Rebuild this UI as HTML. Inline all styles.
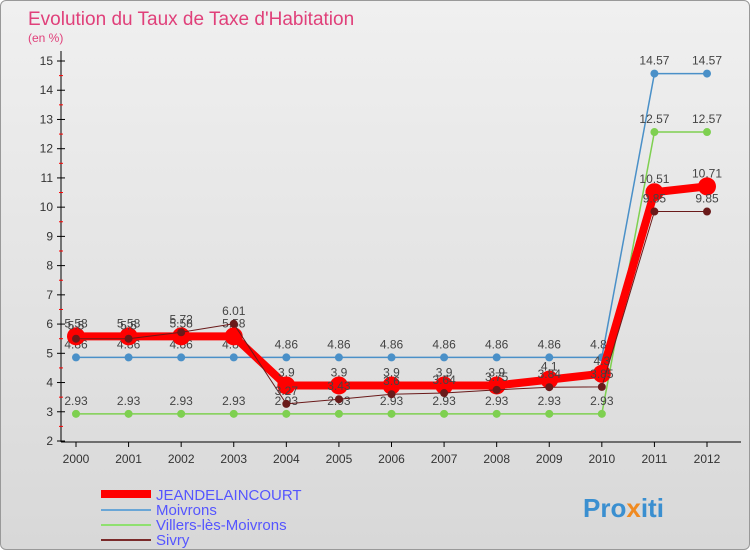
<!DOCTYPE html>
<html><head><meta charset="utf-8"><style>
body{margin:0;width:750px;height:550px;overflow:hidden;font-family:"Liberation Sans",sans-serif}
#c{position:absolute;left:0;top:0;width:748px;height:548px;border:1px solid #999;border-radius:6px;background:linear-gradient(#f0f0f0,#d8d8d8)}
</style></head><body>
<div id="c">
<svg id="s" width="750" height="550" style="position:absolute;left:0;top:0">
<text x="27" y="24" font-size="19" fill="#e0407a">Evolution du Taux de Taxe d'Habitation</text>
<text x="27" y="41" font-size="12" fill="#e0407a">(en %)</text>
<g id="plot"></g>
<g>
<line x1="100" y1="493" x2="150" y2="493" stroke="#f00" stroke-width="8"/><text x="155" y="499" font-size="15" fill="#55f">JEANDELAINCOURT</text>
<line x1="100" y1="509" x2="150" y2="509" stroke="#6aa6d6" stroke-width="2"/><text x="155" y="514" font-size="15" fill="#55f">Moivrons</text>
<line x1="100" y1="524" x2="150" y2="524" stroke="#8fe070" stroke-width="2"/><text x="155" y="529" font-size="15" fill="#55f">Villers-lès-Moivrons</text>
<line x1="100" y1="539" x2="150" y2="539" stroke="#7a2a2a" stroke-width="2"/><text x="155" y="544" font-size="15" fill="#55f">Sivry</text>
</g>
<text x="582" y="516" font-size="26" font-weight="bold" fill="#3a8fd0">Pro<tspan fill="#f08a20">x</tspan>iti</text>
</svg></div>
<script>
const years=[2000,2001,2002,2003,2004,2005,2006,2007,2008,2009,2010,2011,2012];
const yTicks=[2,3,4,5,6,7,8,9,10,11,12,13,14,15];
const moivrons=[4.86,4.86,4.86,4.86,4.86,4.86,4.86,4.86,4.86,4.86,4.86,14.57,14.57];
const villers=[2.93,2.93,2.93,2.93,2.93,2.93,2.93,2.93,2.93,2.93,2.93,12.57,12.57];
const sivry=[5.5,5.5,5.72,6.01,3.27,3.43,3.6,3.64,3.75,3.84,3.85,9.85,9.85];
const jean=[5.58,5.58,5.58,5.58,3.9,3.9,3.9,3.9,3.9,4.1,4.3,10.51,10.71];
const NS="http://www.w3.org/2000/svg",g=document.getElementById('plot');
const X=i=>75+i*(706-75)/12, Y=v=>440-(v-2)*(380/13);
function el(t,a,p){const e=document.createElementNS(NS,t);for(const k in a)e.setAttribute(k,a[k]);(p||g).appendChild(e);return e;}
// axes
let ax=el('line',{x1:60,y1:50,x2:60,y2:441,stroke:'#000','stroke-width':1});

let bx=el('line',{x1:60,y1:441,x2:740,y2:441,stroke:'#000','stroke-width':1});

yTicks.forEach(v=>{el('line',{x1:56,y1:Y(v),x2:64,y2:Y(v),stroke:'#000'});
 if(v<15)el('line',{x1:58,y1:Y(v+0.5),x2:62,y2:Y(v+0.5),stroke:'#f00'});
 const t=el('text',{x:52,y:Y(v)+4,'font-size':12,'text-anchor':'end',fill:'#333'});t.textContent=v;
 });
years.forEach((y,i)=>{el('line',{x1:X(i),y1:441,x2:X(i),y2:446,stroke:'#000'});
 const t=el('text',{x:X(i),y:462,'font-size':12,'text-anchor':'middle',fill:'#333'});t.textContent=y;
 });
function series(d,col,w,r,name){
 const p=el('polyline',{points:d.map((v,i)=>X(i)+','+Y(v)).join(' '),fill:'none',stroke:col,'stroke-width':w,'stroke-linejoin':'round'});
 
 d.forEach((v,i)=>{const c=el('circle',{cx:X(i),cy:Y(v),r:r,fill:col});
  
  const t=el('text',{x:X(i),y:Y(v)-9,'font-size':12,'text-anchor':'middle',fill:'#444'});t.textContent=String(v).replace('.','.');
  });
}
series(moivrons,'#4a90c8',1.5,4,'moivrons');
series(villers,'#7ed050',1.5,4,'villers');
series(jean,'#f00',8,9,'jeandelaincourt');
series(sivry,'#6a1a1a',1,4,'sivry');
</script></body></html>
